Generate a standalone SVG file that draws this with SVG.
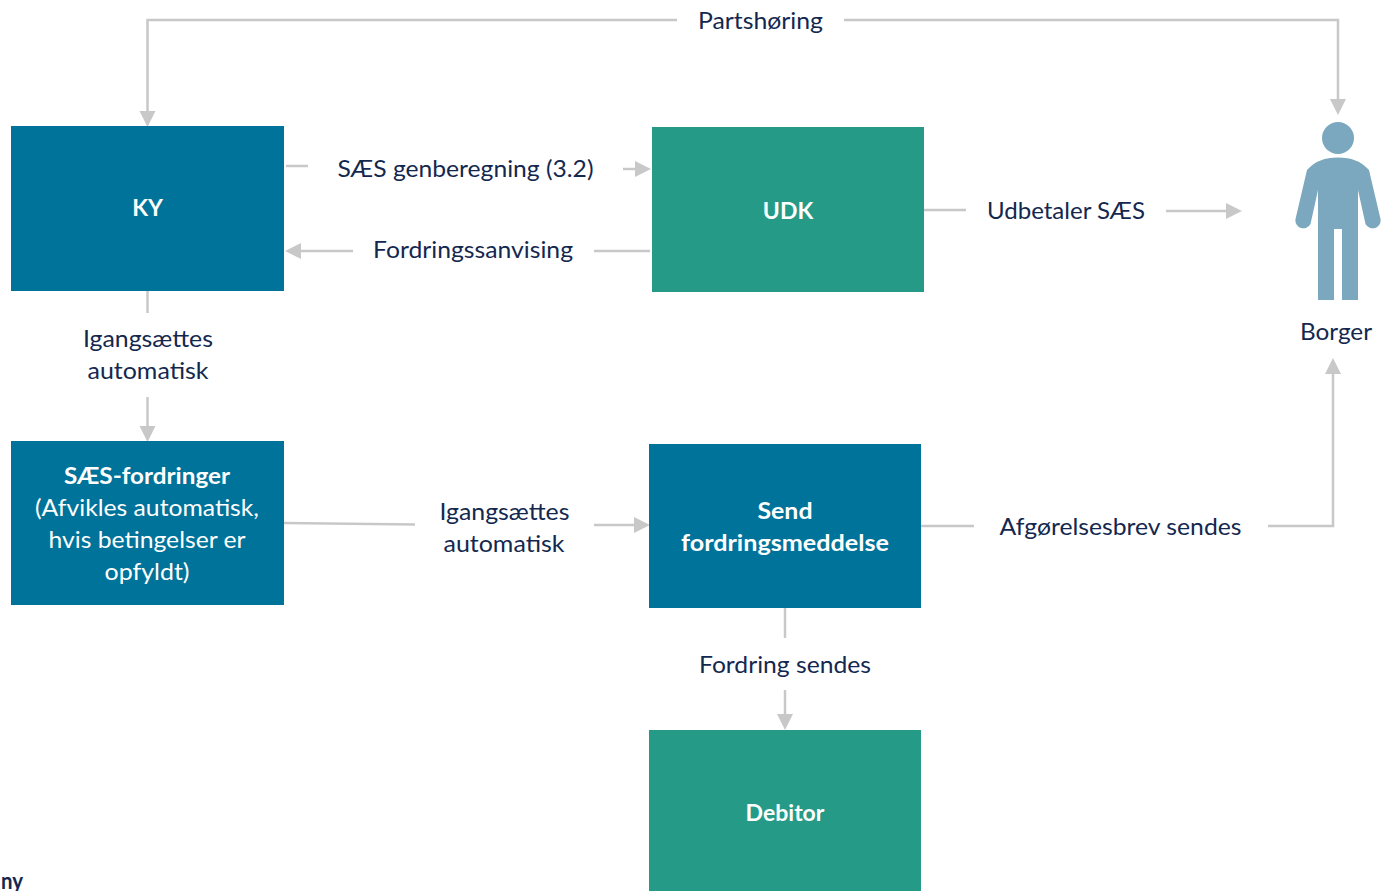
<svg xmlns="http://www.w3.org/2000/svg" width="1381" height="891" viewBox="0 0 1381 891">
<style>
text{font-family:"Lato","Carlito","Liberation Sans",sans-serif;font-size:23px;fill:#14284f;text-anchor:middle}
.w{fill:#fff}
.b{font-weight:700}
.blue{fill:#00739a}
.green{fill:#259b87}
.l{fill:none;stroke:#c8c8c8;stroke-width:2.5}
.a{fill:#c8c8c8}
</style>
<rect width="1381" height="891" fill="#fff"/>
<g id="connectors">
<path class="l" d="M677 20H147.500V112"/><polygon class="a" points="139.500,111 155.500,111 147.500,127"/>
<path class="l" d="M844 20H1338V100"/><polygon class="a" points="1330,99 1346,99 1338,115"/>
<path class="l" d="M286 166H308"/>
<path class="l" d="M623 169H637"/><polygon class="a" points="635,161 651,169 635,177"/>
<path class="l" d="M650 251H594"/>
<path class="l" d="M353 251H299"/><polygon class="a" points="301,243 285,251 301,259"/>
<path class="l" d="M924 210H966"/>
<path class="l" d="M1166 211H1228"/><polygon class="a" points="1226,203 1242,211 1226,219"/>
<path class="l" d="M147.500 291V313"/>
<path class="l" d="M147.500 397V428"/><polygon class="a" points="139.500,426 155.500,426 147.500,442"/>
<path class="l" d="M284 523L415 524.500"/>
<path class="l" d="M594 525H636"/><polygon class="a" points="634,517 650,525 634,533"/>
<path class="l" d="M921 526H974"/>
<path class="l" d="M1268 526H1333V372"/><polygon class="a" points="1325,374 1341,374 1333,358"/>
<path class="l" d="M785 608V638"/>
<path class="l" d="M785 690V716"/><polygon class="a" points="777,714 793,714 785,730"/>
</g>
<g id="ky"><rect class="blue" x="11" y="126" width="273" height="165"/><text class="w b" x="147.500" y="216">KY</text></g>
<g id="udk"><rect class="green" x="652" y="127" width="272" height="165"/><text class="w b" x="788" y="219">UDK</text></g>
<g id="saes"><rect class="blue" x="11" y="441" width="273" height="164"/>
<text class="w b" x="147" y="484" textLength="166" lengthAdjust="spacingAndGlyphs">SÆS-fordringer</text>
<text class="w" x="147" y="516" textLength="224" lengthAdjust="spacingAndGlyphs">(Afvikles automatisk,</text>
<text class="w" x="147" y="548" textLength="197" lengthAdjust="spacingAndGlyphs">hvis betingelser er</text>
<text class="w" x="147" y="580" textLength="85" lengthAdjust="spacingAndGlyphs">opfyldt)</text></g>
<g id="send"><rect class="blue" x="649" y="444" width="272" height="164"/>
<text class="w b" x="785" y="519" textLength="55" lengthAdjust="spacingAndGlyphs">Send</text>
<text class="w b" x="785" y="551" textLength="208" lengthAdjust="spacingAndGlyphs">fordringsmeddelse</text></g>
<g id="debitor"><rect class="green" x="649" y="730" width="272" height="161"/><text class="w b" x="785" y="821">Debitor</text></g>
<g id="borger">
<circle cx="1338" cy="138" r="16" fill="#7ba8bf"/>
<path fill="#7ba8bf" d="M1338 157.500C1325 157.500 1315 161 1307 170L1295.500 219A8 8 0 0 0 1310.500 224L1318 190V300H1334V229H1342V300H1358V190L1365.500 224A8 8 0 0 0 1380.500 219L1369 170C1361 161 1351 157.500 1338 157.500Z"/>
<text x="1336" y="340" textLength="72" lengthAdjust="spacingAndGlyphs">Borger</text>
</g>
<g id="labels">
<text x="760.500" y="29" textLength="125" lengthAdjust="spacingAndGlyphs">Partshøring</text>
<text x="465.500" y="177" textLength="256" lengthAdjust="spacingAndGlyphs">SÆS genberegning (3.2)</text>
<text x="473" y="258" textLength="200" lengthAdjust="spacingAndGlyphs">Fordringssanvising</text>
<text x="1066" y="219" textLength="158" lengthAdjust="spacingAndGlyphs">Udbetaler SÆS</text>
<text x="148" y="347" textLength="130" lengthAdjust="spacingAndGlyphs">Igangsættes</text>
<text x="148" y="379" textLength="121" lengthAdjust="spacingAndGlyphs">automatisk</text>
<text x="504.500" y="520" textLength="130" lengthAdjust="spacingAndGlyphs">Igangsættes</text>
<text x="504" y="552" textLength="121" lengthAdjust="spacingAndGlyphs">automatisk</text>
<text x="1120.500" y="535" textLength="242" lengthAdjust="spacingAndGlyphs">Afgørelsesbrev sendes</text>
<text x="785" y="673" textLength="172" lengthAdjust="spacingAndGlyphs">Fordring sendes</text>
<text class="b" x="12" y="889" textLength="22" lengthAdjust="spacingAndGlyphs">ny</text>
</g>
</svg>
